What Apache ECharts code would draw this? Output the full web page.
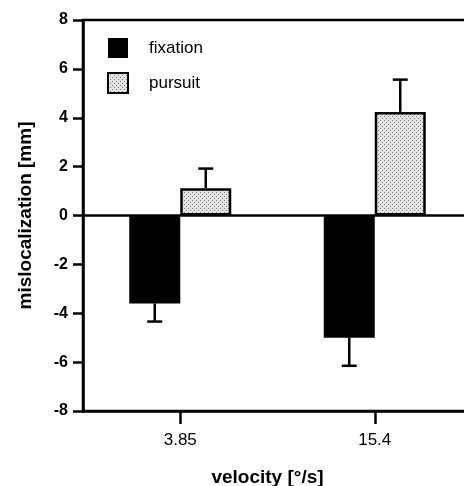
<!DOCTYPE html>
<html>
<head>
<meta charset="utf-8">
<script src="https://cdn.jsdelivr.net/npm/echarts@6/dist/echarts.min.js"></script>
<style>
  html, body { margin: 0; padding: 0; background: #fff; }
  #chart { width: 464px; height: 486px; }
</style>
</head>
<body>
<div id="chart"></div>
<script>
var categories = ['3.85', '15.4'];
var seriesNames = ['fixation', 'pursuit'];
var fixationMean = [-3.6, -5.0];
var fixationErr = [0.74, 1.15];
var pursuitMean = [1.12, 4.24];
var pursuitErr = [0.8, 1.32];
var yTicks = { min: -8, max: 8, step: 2 };

var FONT = '"Liberation Sans", Arial, sans-serif';
var BAR_W = 51;

// stippled grey fill for the pursuit bars
function dotPattern() {
    var c = document.createElement('canvas');
    c.width = 4; c.height = 4;
    var ctx = c.getContext('2d');
    ctx.fillStyle = '#e4e4e4';
    ctx.fillRect(0, 0, 4, 4);
    ctx.fillStyle = '#7a7a7a';
    ctx.fillRect(0, 0, 1, 1);
    ctx.fillRect(2, 2, 1, 1);
    return c;
}

function errData(means, errs) {
    var out = [];
    for (var i = 0; i < means.length; i++) {
        out.push([i, means[i], errs[i]]);
    }
    return out;
}

// one-sided error bar, drawn outward from the end of the bar
function errRender(offset) {
    return function (params, api) {
        var ci = api.value(0), m = api.value(1), e = api.value(2);
        var sign = m < 0 ? -1 : 1;
        var p0 = api.coord([ci, m]);
        var p1 = api.coord([ci, m + sign * e]);
        var x = p0[0] + offset;
        var st = { stroke: '#000', lineWidth: 2.5 };
        return {
            type: 'group',
            children: [
                { type: 'line', shape: { x1: x, y1: p0[1], x2: x, y2: p1[1] }, style: st },
                { type: 'line', shape: { x1: x - 7.5, y1: p1[1], x2: x + 7.5, y2: p1[1] }, style: st }
            ]
        };
    };
}

var chart = echarts.init(document.getElementById('chart'));
chart.setOption({
    animation: false,
    backgroundColor: '#fff',
    textStyle: { fontFamily: FONT },
    grid: {
        left: 83, top: 20, width: 389, height: 391,
        outerBoundsMode: 'none', containLabel: false,
        show: true, borderColor: '#000', borderWidth: 2.5, backgroundColor: 'transparent'
    },
    legend: {
        orient: 'vertical', left: 107, top: 38, padding: 0,
        icon: 'rect',
        itemWidth: 20, itemHeight: 20, itemGap: 14,
        data: seriesNames,
        textStyle: { fontFamily: FONT, fontSize: 17, color: '#000', padding: [0, 0, 0, 16] }
    },
    xAxis: {
        type: 'category',
        data: categories,
        name: 'velocity [°/s]',
        nameLocation: 'middle',
        nameGap: 57,
        nameTextStyle: { fontFamily: FONT, fontSize: 19, fontWeight: 'bold', color: '#000', padding: [0, 20, 0, 0] },
        axisLine: { onZero: false, lineStyle: { color: '#000', width: 2.5 } },
        axisTick: { show: true, interval: 0, alignWithLabel: true, length: 13, lineStyle: { color: '#000', width: 2.5 } },
        axisLabel: { fontFamily: FONT, fontSize: 17, color: '#000', margin: 21 },
        splitLine: { show: false }
    },
    yAxis: {
        type: 'value',
        min: yTicks.min, max: yTicks.max, interval: yTicks.step,
        name: 'mislocalization [mm]',
        nameLocation: 'middle',
        nameGap: 48,
        nameTextStyle: { fontFamily: FONT, fontSize: 19, fontWeight: 'bold', color: '#000' },
        axisLine: { show: true, lineStyle: { color: '#000', width: 2.5 } },
        axisTick: { show: true, length: 10, lineStyle: { color: '#000', width: 2.5 } },
        axisLabel: { fontFamily: FONT, fontSize: 16, fontWeight: 'bold', color: '#000', margin: 15 },
        splitLine: { show: false }
    },
    series: [
        {
            name: seriesNames[0], type: 'bar', data: fixationMean,
            barWidth: BAR_W, barGap: '0%',
            itemStyle: { color: '#000' },
            markLine: {
                silent: true, symbol: 'none', label: { show: false },
                lineStyle: { color: '#000', width: 2.5, type: 'solid' },
                data: [{ yAxis: 0 }]
            }
        },
        {
            name: seriesNames[1], type: 'bar', data: pursuitMean,
            barWidth: BAR_W, barGap: '0%',
            itemStyle: {
                color: { image: dotPattern(), repeat: 'repeat' },
                borderColor: '#000', borderWidth: 2.5
            }
        },
        {
            type: 'custom', silent: true, z: 5,
            renderItem: errRender(-BAR_W / 2),
            data: errData(fixationMean, fixationErr)
        },
        {
            type: 'custom', silent: true, z: 5,
            renderItem: errRender(BAR_W / 2),
            data: errData(pursuitMean, pursuitErr)
        }
    ]
});
</script>
</body>
</html>
